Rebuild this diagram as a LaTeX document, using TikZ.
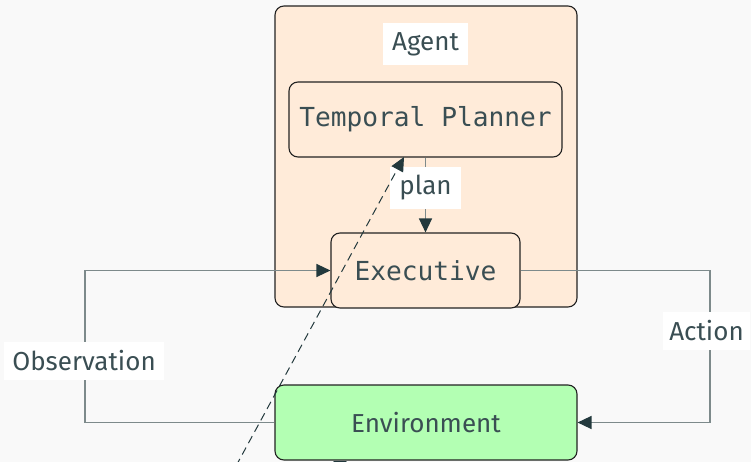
\documentclass[tikz,border=0pt]{standalone}
\usepackage{fontspec}
\setmainfont{Fira Sans}
\setmonofont{DejaVu Sans Mono}
\usetikzlibrary{arrows.meta}
\definecolor{bg}{HTML}{F9F9F9}
\definecolor{agentfill}{HTML}{FFEBD9}
\definecolor{envfill}{HTML}{B3FFB3}
\definecolor{txt}{HTML}{3A4E53}
\definecolor{edgec}{HTML}{7D8A8B}
\definecolor{tipc}{HTML}{23393D}
\definecolor{boxline}{HTML}{222222}
\tikzset{
  box/.style={draw=boxline, line width=1.1pt, rounded corners=9pt, inner sep=0pt, text=txt},
  lbl/.style={fill=white, inner sep=0pt, text=txt, font=\fontsize{26}{30}\selectfont},
  conn/.style={draw=edgec, line width=1.3pt, -{Triangle[length=14pt,width=13pt,color=tipc]}},
  dashconn/.style={draw=tipc, line width=1pt, dash pattern=on 8pt off 5pt, -{Triangle[length=14pt,width=13pt,color=tipc]}},
}
\begin{document}
\begin{tikzpicture}[x=1pt,y=-1pt]
\fill[bg] (0,0) rectangle (751,462);
\useasboundingbox (0,0) rectangle (751,462);
\clip (0,0) rectangle (751,462);

\node[box, fill=agentfill, minimum width=302pt, minimum height=301pt] (agent) at (426,156.5) {};
\node[lbl, minimum width=85pt, minimum height=42pt] (agentlbl) at (425.5,44) {Agent};
\node[box, fill=agentfill, minimum width=273pt, minimum height=75pt, font=\ttfamily\fontsize{26.2}{30}\selectfont] (planner) at (425.5,119.5) {Temporal Planner};
\node[box, fill=agentfill, minimum width=189pt, minimum height=75pt, font=\ttfamily\fontsize{26.2}{30}\selectfont] (exec) at (425.5,270.5) {Executive};
\node[box, fill=envfill, minimum width=302pt, minimum height=75pt, font=\fontsize{26}{30}\selectfont] (env) at (426,422.5) {Environment};

% plan
\draw[conn] (planner) -- (exec);
\node[lbl, minimum width=71pt, minimum height=42pt] (planlbl) at (425.5,188) {plan};

% action
\coordinate (ac) at (710,270.5);
\draw[conn] (exec.east) -- (ac) |- (env.east);
\node[lbl, minimum width=87pt, minimum height=38pt] (actlbl) at (706.5,331) {Action};

% observation
\coordinate (oc) at (85,422.5);
\draw[conn] (env.west) -- (oc) |- (exec.west);
\node[lbl, minimum width=160pt, minimum height=38pt] (obslbl) at (84,361) {Observation};

% dashed
\coordinate (ds) at (236,466);
\coordinate (de) at (404,157);
\draw[dashconn] (ds) -- (de);

% bottom arrow stub
\coordinate (bs) at (340,460.5);
\coordinate (be) at (340,475);
\draw[conn] (bs) -- (be);
\end{tikzpicture}
\end{document}
